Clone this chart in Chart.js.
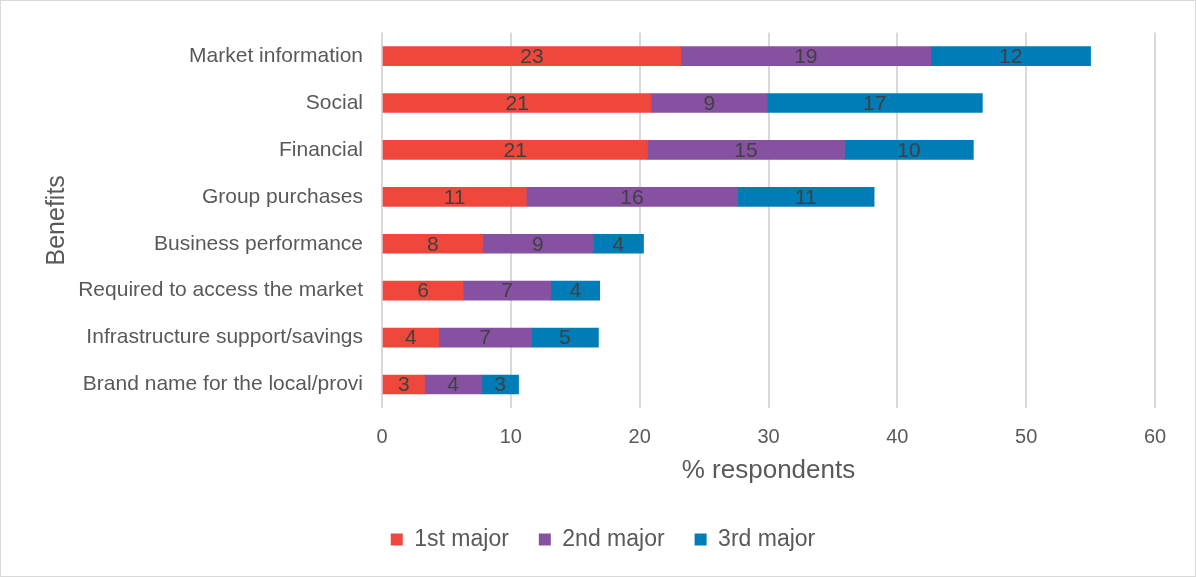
<!DOCTYPE html>
<html>
<head>
<meta charset="utf-8">
<script src="https://cdn.jsdelivr.net/npm/chart.js@4.4.1/dist/chart.umd.min.js"></script>
<style>
  body { margin: 0; background: #fff; }
  #wrap { width: 1194px; height: 575px; border: 1px solid #d9d9d9; position: relative; }
</style>
</head>
<body>
<div id="wrap"><canvas id="myChart" width="1194" height="575"></canvas></div>
<script>
// benefits of membership, % respondents ranking each one
const benefits = [
  'Market information',
  'Social',
  'Financial',
  'Group purchases',
  'Business performance',
  'Required to access the market',
  'Infrastructure support/savings',
  'Brand name for the local/provi'
];
const firstMajor  = [23.2, 20.9, 20.6, 11.2, 7.8, 6.3, 4.4, 3.3];
const secondMajor = [19.4, 9.0, 15.3, 16.4, 8.6, 6.8, 7.2, 4.45];
const thirdMajor  = [12.4, 16.7, 10.0, 10.6, 3.9, 3.8, 5.2, 2.85];
const xTicks = [0, 10, 20, 30, 40, 50, 60];

const textGrey = '#595959';
const fontFamily = '"Liberation Sans", Arial, sans-serif';

// write the rounded value in the middle of each bar segment
const segmentLabels = {
  id: 'segmentLabels',
  afterDatasetsDraw(chart) {
    const ctx = chart.ctx;
    ctx.save();
    ctx.font = '21px ' + fontFamily;
    ctx.fillStyle = '#404040';
    ctx.textAlign = 'center';
    ctx.textBaseline = 'middle';
    chart.data.datasets.forEach(function (ds, i) {
      chart.getDatasetMeta(i).data.forEach(function (bar, j) {
        const p = bar.getProps(['x', 'y', 'base'], true);
        ctx.fillText(Math.round(ds.data[j]), (p.x + p.base) / 2, p.y + 1);
      });
    });
    ctx.restore();
  }
};

const data = {
  labels: benefits,
  datasets: [
    { label: '1st major', data: firstMajor, backgroundColor: '#EF473B' },
    { label: '2nd major', data: secondMajor, backgroundColor: '#8751A1' },
    { label: '3rd major', data: thirdMajor, backgroundColor: '#007DB6' }
  ]
};

const config = {
  type: 'bar',
  data: data,
  plugins: [segmentLabels],
  options: {
    indexAxis: 'y',
    responsive: false,
    animation: false,
    barThickness: 19,
    layout: { padding: { top: 30, right: 40, bottom: 15, left: 50 } },
    scales: {
      x: {
        stacked: true,
        min: 0,
        max: 60,
        afterBuildTicks: function (scale) {
          scale.ticks = xTicks.map(function (v) { return { value: v }; });
        },
        afterFit: function (scale) { scale.height = 90; },
        grid: { color: '#d9d9d9', lineWidth: 2, drawTicks: false },
        border: { display: false },
        ticks: {
          color: textGrey,
          padding: 17,
          font: { family: fontFamily, size: 20 }
        },
        title: {
          display: true,
          text: '% respondents',
          color: textGrey,
          padding: { top: 0, bottom: 12 },
          font: { family: fontFamily, size: 26 }
        }
      },
      y: {
        stacked: true,
        afterFit: function (scale) { scale.width = 331; },
        grid: { display: false, drawTicks: false },
        border: { display: false },
        ticks: {
          color: textGrey,
          padding: 19,
          font: { family: fontFamily, size: 21 }
        },
        title: {
          display: true,
          text: 'Benefits',
          color: textGrey,
          padding: { top: -9, bottom: 0 },
          font: { family: fontFamily, size: 25 }
        }
      }
    },
    plugins: {
      tooltip: { enabled: false },
      legend: {
        position: 'bottom',
        labels: {
          color: textGrey,
          boxWidth: 12,
          boxHeight: 12,
          padding: 30,
          font: { family: fontFamily, size: 23 }
        }
      }
    }
  }
};

const myChart = new Chart(document.getElementById('myChart'), config);
</script>
</body>
</html>
